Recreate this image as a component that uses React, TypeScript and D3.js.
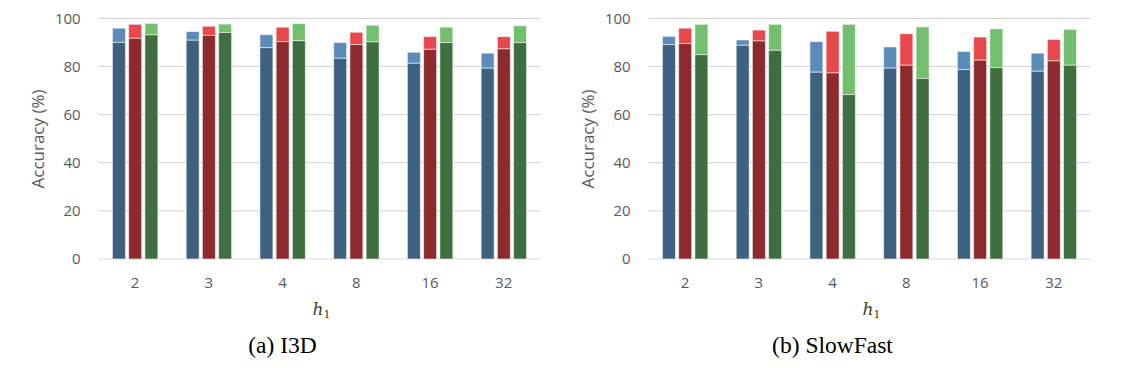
import React from "react";
import * as d3 from "d3";

const categories = ["2", "3", "4", "8", "16", "32"];
const yTicks = [0, 20, 40, 60, 80, 100];

// I3D
const i3dBlueTop = [95.9, 94.5, 93.2, 89.9, 85.9, 85.5];
const i3dBlueBase = [90.0, 90.9, 87.8, 83.4, 81.3, 79.3];
const i3dRedTop = [97.5, 96.7, 96.3, 94.2, 92.4, 92.4];
const i3dRedBase = [91.7, 92.9, 90.3, 89.1, 87.1, 87.3];
const i3dGreenTop = [97.9, 97.6, 97.8, 97.1, 96.3, 96.9];
const i3dGreenBase = [93.1, 94.1, 90.7, 90.2, 89.9, 89.9];

// SlowFast
const sfBlueTop = [92.5, 91.0, 90.3, 88.1, 86.2, 85.5];
const sfBlueBase = [89.1, 88.8, 77.6, 79.3, 78.7, 78.0];
const sfRedTop = [95.9, 95.1, 94.6, 93.6, 92.2, 91.2];
const sfRedBase = [89.5, 90.6, 77.3, 80.5, 82.6, 82.3];
const sfGreenTop = [97.5, 97.5, 97.5, 96.4, 95.6, 95.4];
const sfGreenBase = [84.9, 86.7, 68.3, 75.0, 79.5, 80.5];

const seriesKeys = ["blue", "red", "green"];
const darkColors = ["#3E6180", "#8C2A2D", "#3F6F3F"];
const lightColors = ["#5B8BB9", "#E8474B", "#72BF6D"];

type Panel = {
  caption: string;
  tops: number[][];
  bases: number[][];
  x0: number;
};

const panels: Panel[] = [
  {
    caption: "(a) I3D",
    tops: [i3dBlueTop, i3dRedTop, i3dGreenTop],
    bases: [i3dBlueBase, i3dRedBase, i3dGreenBase],
    x0: 0,
  },
  {
    caption: "(b) SlowFast",
    tops: [sfBlueTop, sfRedTop, sfGreenTop],
    bases: [sfBlueBase, sfRedBase, sfGreenBase],
    x0: 550,
  },
];

const tickFont = "'Open Sans', 'Noto Sans', sans-serif";

function ChartPanel({ p }: { p: Panel }) {
  const left = 98.3;
  const right = 540.7;
  const y = d3.scaleLinear().domain([0, 100]).range([259, 18.3]);
  const xg = d3
    .scaleBand<string>()
    .domain(categories)
    .range([left, right])
    .paddingInner(0.384)
    .paddingOuter(0.192);
  const xs = d3
    .scaleBand<string>()
    .domain(seriesKeys)
    .range([0, xg.bandwidth()])
    .paddingInner(0.2)
    .paddingOuter(0);
  const plotCenter = (left + right) / 2 + 2;
  return (
    <g transform={`translate(${p.x0},0)`}>
      {yTicks.map((t) => (
        <g key={t}>
          <line
            x1={left}
            x2={right}
            y1={y(t)}
            y2={y(t)}
            stroke="#D9D9D9"
            strokeWidth={1.2}
          />
          <text
            x={80.7}
            y={y(t)}
            dy="0.35em"
            textAnchor="end"
            fontFamily={tickFont}
            fontSize={15}
            fill="#595959"
          >
            {t}
          </text>
        </g>
      ))}
      {categories.map((c, i) => (
        <g key={c} transform={`translate(${xg(c)},0)`}>
          {seriesKeys.map((s, k) => {
            const bx = xs(s)!;
            const w = xs.bandwidth();
            const top = p.tops[k][i];
            const base = p.bases[k][i];
            return (
              <g key={s}>
                <rect
                  x={bx}
                  y={y(top)}
                  width={w}
                  height={y(base) - y(top)}
                  fill={lightColors[k]}
                  stroke="#ffffff"
                  strokeOpacity={0.55}
                  strokeWidth={1}
                />
                <rect
                  x={bx}
                  y={y(base)}
                  width={w}
                  height={y(0) - y(base)}
                  fill={darkColors[k]}
                  stroke="#ffffff"
                  strokeOpacity={0.55}
                  strokeWidth={1}
                />
              </g>
            );
          })}
          <text
            x={xg.bandwidth() / 2}
            y={288}
            textAnchor="middle"
            fontFamily={tickFont}
            fontSize={15}
            fill="#595959"
          >
            {c}
          </text>
        </g>
      ))}
      <text
        transform={`translate(38.5,139) rotate(-90)`}
        textAnchor="middle"
        dy="0.35em"
        fontFamily={tickFont}
        fontSize={17}
        fill="#595959"
      >
        Accuracy (%)
      </text>
      <text
        x={plotCenter}
        y={315}
        textAnchor="middle"
        fontFamily="'DejaVu Serif', 'Liberation Serif', serif"
        fontStyle="italic"
        fontSize={17}
        fill="#403F22"
      >
        h
        <tspan fontStyle="normal" fontSize={11} dy={3}>
          1
        </tspan>
      </text>
      <text
        x={282.5}
        y={353}
        textAnchor="middle"
        fontFamily="'Liberation Serif', 'Times New Roman', serif"
        fontSize={23.5}
        fill="#000000"
      >
        {p.caption}
      </text>
    </g>
  );
}

export default function App() {
  return (
    <div style={{ position: "fixed", left: 0, top: 0 }}>
      <svg width={1136} height={368} style={{ display: "block", background: "#ffffff" }}>
        <rect width={1136} height={368} fill="#ffffff" />
        {panels.map((p) => (
          <ChartPanel key={p.caption} p={p} />
        ))}
      </svg>
    </div>
  );
}
